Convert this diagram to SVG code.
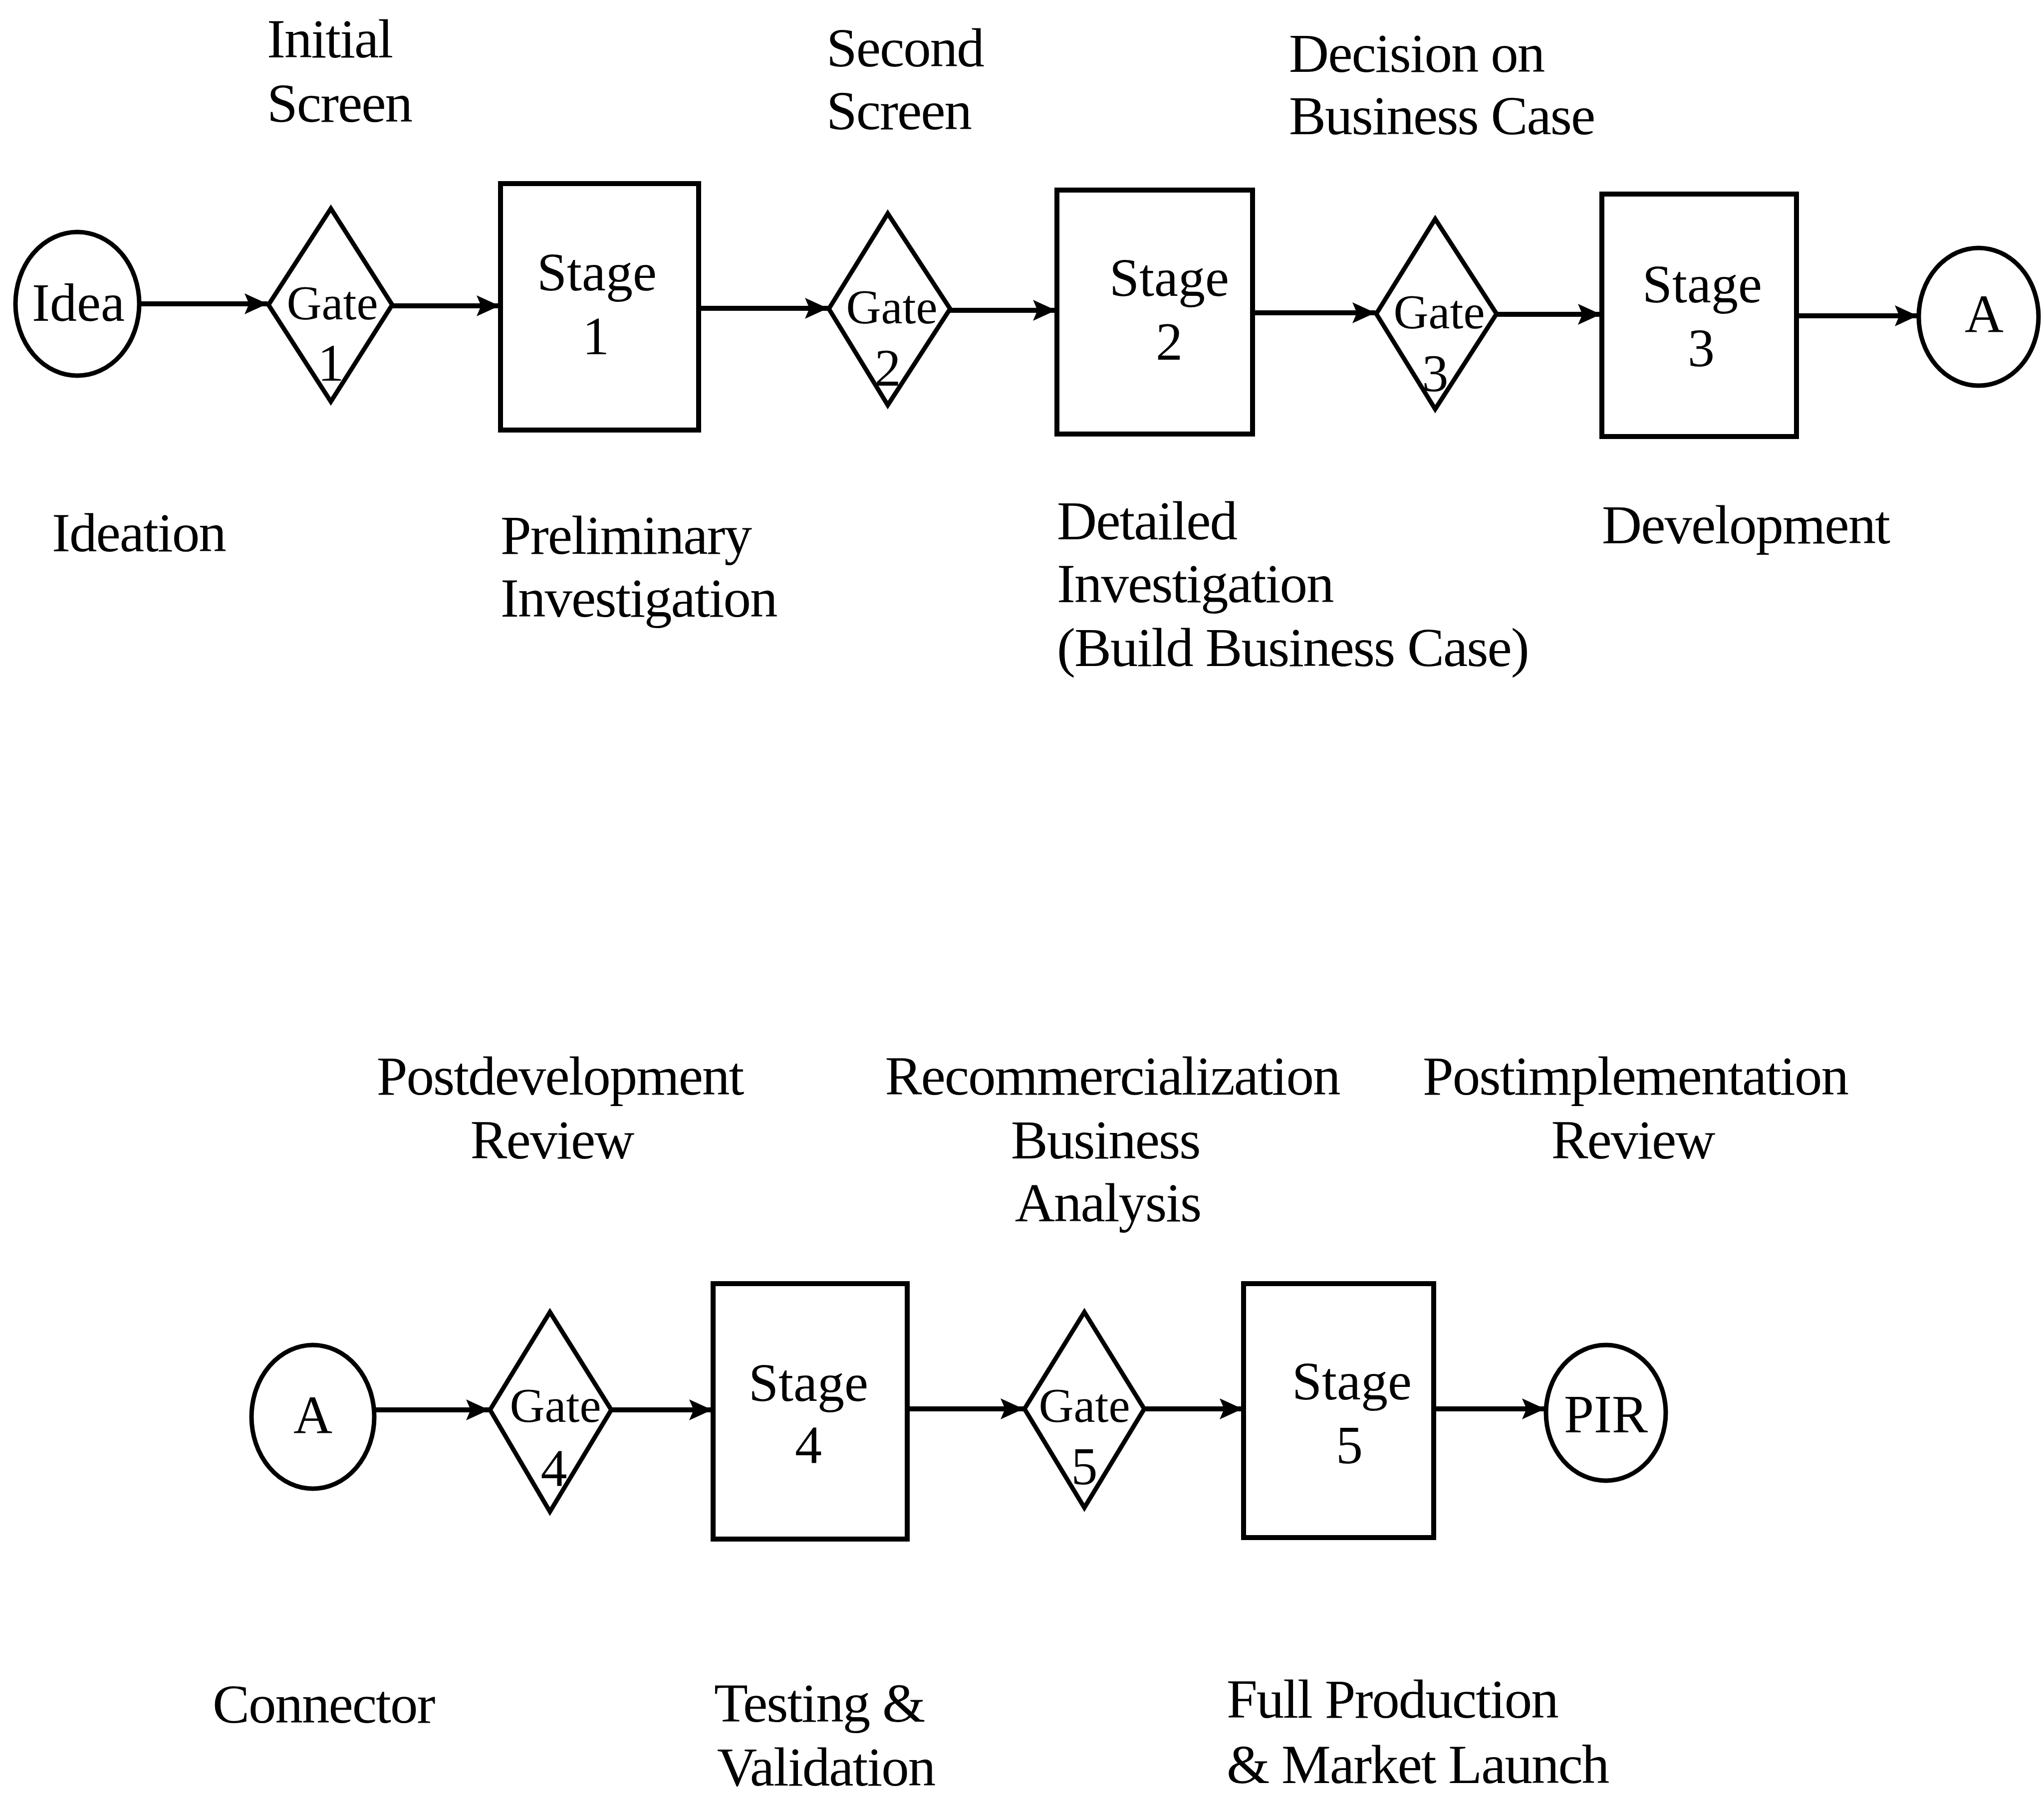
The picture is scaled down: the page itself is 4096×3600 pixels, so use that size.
<svg xmlns="http://www.w3.org/2000/svg" width="4096" height="3600" viewBox="0 0 4096 3600">
  <defs>
    <style>
      .shape { fill: #ffffff; stroke: #000000; stroke-width: 9; }
      .stage { fill: #ffffff; stroke: #000000; stroke-width: 10; }
      .flow line { stroke: #000000; stroke-width: 10; }
      text { font-family: "Liberation Serif", "Times New Roman", serif; fill: #000000; }
      .lbl { font-size: 111px; letter-spacing: -2px; }
      .node { font-size: 108px; text-anchor: middle; }
      .gate { font-size: 97px; text-anchor: middle; }
      .num { font-size: 106px; text-anchor: middle; }
      .mid { text-anchor: middle; }
    </style>
    <marker id="arrow" viewBox="0 0 46 42" markerWidth="46" markerHeight="42" refX="46" refY="21" markerUnits="userSpaceOnUse" orient="auto">
      <path d="M0,0 L46,21 L0,42 L9,21 Z" fill="#000000"/>
    </marker>
  </defs>

  <rect width="4096" height="3600" fill="#ffffff"/>

  <!-- connectors -->
  <g id="connectors" class="flow">
    <line x1="279" y1="609" x2="536" y2="609" marker-end="url(#arrow)"/>
    <line x1="786" y1="613" x2="1001" y2="613" marker-end="url(#arrow)"/>
    <line x1="1400" y1="618" x2="1659" y2="618" marker-end="url(#arrow)"/>
    <line x1="1904" y1="622" x2="2116" y2="622" marker-end="url(#arrow)"/>
    <line x1="2510" y1="627" x2="2756" y2="627" marker-end="url(#arrow)"/>
    <line x1="2999" y1="630" x2="3208" y2="630" marker-end="url(#arrow)"/>
    <line x1="3600" y1="633" x2="3843" y2="633" marker-end="url(#arrow)"/>

    <line x1="750" y1="2826" x2="980" y2="2826" marker-end="url(#arrow)"/>
    <line x1="1225" y1="2826" x2="1427" y2="2826" marker-end="url(#arrow)"/>
    <line x1="1818" y1="2824" x2="2051" y2="2824" marker-end="url(#arrow)"/>
    <line x1="2293" y1="2824" x2="2490" y2="2824" marker-end="url(#arrow)"/>
    <line x1="2873" y1="2824" x2="3096" y2="2824" marker-end="url(#arrow)"/>
  </g>

  <!-- upper row -->
  <g id="idea">
    <ellipse class="shape" cx="155" cy="609" rx="124" ry="144"/>
    <text class="node" x="157" y="643">Idea</text>
  </g>
  <g id="gate1">
    <polygon class="shape" points="663,418 786,611 663,805 538,611"/>
    <text class="gate" x="666" y="640">Gate</text>
    <text class="num" x="663" y="763">1</text>
  </g>
  <g id="stage1">
    <rect class="stage" x="1003" y="368" width="397" height="494"/>
    <text class="node" x="1196" y="582">Stage</text>
    <text class="node" x="1194" y="710">1</text>
  </g>
  <g id="gate2">
    <polygon class="shape" points="1779,428 1904,619 1779,812 1661,619"/>
    <text class="gate" x="1787" y="648">Gate</text>
    <text class="num" x="1779" y="773">2</text>
  </g>
  <g id="stage2">
    <rect class="stage" x="2118" y="381" width="392" height="489"/>
    <text class="node" x="2343" y="593">Stage</text>
    <text class="node" x="2343" y="721">2</text>
  </g>
  <g id="gate3">
    <polygon class="shape" points="2876,439 2999,629 2876,820 2758,629"/>
    <text class="gate" x="2884" y="658">Gate</text>
    <text class="num" x="2876" y="784">3</text>
  </g>
  <g id="stage3">
    <rect class="stage" x="3210" y="389" width="390" height="486"/>
    <text class="node" x="3411" y="606">Stage</text>
    <text class="node" x="3409" y="734">3</text>
  </g>
  <g id="connector-a-out">
    <ellipse class="shape" cx="3965" cy="635" rx="120" ry="138"/>
    <text class="node" x="3976" y="666">A</text>
  </g>

  <!-- upper row captions -->
  <g id="captions-upper" class="lbl">
    <text x="535" y="115">Initial</text>
    <text x="535" y="244">Screen</text>
    <text x="1656" y="133">Second</text>
    <text x="1656" y="259">Screen</text>
    <text x="2583" y="144">Decision on</text>
    <text x="2583" y="269">Business Case</text>
    <text x="104" y="1105">Ideation</text>
    <text x="1003" y="1110">Preliminary</text>
    <text x="1003" y="1236">Investigation</text>
    <text x="2118" y="1081">Detailed</text>
    <text x="2118" y="1207">Investigation</text>
    <text x="2118" y="1335">(Build Business Case)</text>
    <text x="3210" y="1089">Development</text>
  </g>

  <!-- lower row -->
  <g id="connector-a-in">
    <ellipse class="shape" cx="627" cy="2840" rx="123" ry="144"/>
    <text class="node" x="627" y="2873">A</text>
  </g>
  <g id="gate4">
    <polygon class="shape" points="1102,2630 1225,2826 1102,3030 982,2826"/>
    <text class="gate" x="1113" y="2850">Gate</text>
    <text class="num" x="1110" y="2978">4</text>
  </g>
  <g id="stage4">
    <rect class="stage" x="1429" y="2573" width="389" height="512"/>
    <text class="node" x="1620" y="2808">Stage</text>
    <text class="node" x="1620" y="2933">4</text>
  </g>
  <g id="gate5">
    <polygon class="shape" points="2173,2630 2293,2824 2173,3022 2053,2824"/>
    <text class="gate" x="2173" y="2850">Gate</text>
    <text class="num" x="2173" y="2975">5</text>
  </g>
  <g id="stage5">
    <rect class="stage" x="2492" y="2573" width="381" height="509"/>
    <text class="node" x="2709" y="2805">Stage</text>
    <text class="node" x="2704" y="2933">5</text>
  </g>
  <g id="pir">
    <ellipse class="shape" cx="3218" cy="2832" rx="120" ry="136"/>
    <text class="node" x="3218" y="2871">PIR</text>
  </g>

  <!-- lower row captions -->
  <g id="captions-lower" class="lbl">
    <text class="mid" x="1122" y="2194">Postdevelopment</text>
    <text class="mid" x="1106" y="2322">Review</text>
    <text class="mid" x="2229" y="2194">Recommercialization</text>
    <text class="mid" x="2215" y="2322">Business</text>
    <text class="mid" x="2220" y="2448">Analysis</text>
    <text class="mid" x="3277" y="2194">Postimplementation</text>
    <text class="mid" x="3272" y="2322">Review</text>
    <text x="426" y="3453">Connector</text>
    <text x="1431" y="3451">Testing &amp;</text>
    <text x="1437" y="3579">Validation</text>
    <text x="2458" y="3443">Full Production</text>
    <text x="2458" y="3574">&amp; Market Launch</text>
  </g>
</svg>
